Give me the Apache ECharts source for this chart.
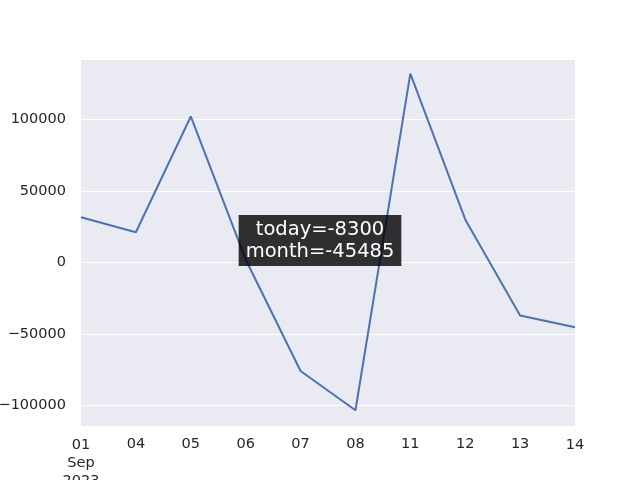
<!DOCTYPE html>
<html>
<head>
<meta charset="utf-8">
<script src="https://cdn.jsdelivr.net/npm/echarts@6/dist/echarts.min.js"></script>
<style>html,body{margin:0;padding:0;background:#fff;}#c{width:640px;height:480px;}</style>
</head>
<body>
<div id="c"></div>
<script>
const dates = ['01', '04', '05', '06', '07', '08', '11', '12', '13', '14'];
const values = [31500, 21000, 102000, 2000, -76000, -103500, 132000, 30000, -37185, -45485];
const annotationText = 'today=-8300\nmonth=-45485';

const chart = echarts.init(document.getElementById('c'), null, {renderer: 'canvas'});
const font = 'DejaVu Sans';
chart.setOption({
  animation: false,
  backgroundColor: '#ffffff',
  grid: {left: 81, right: 65, top: 59, bottom: 54, show: true, backgroundColor: '#EAEAF2', borderWidth: 0,
         containLabel: false, outerBoundsMode: 'none'},
  xAxis: {
    type: 'category',
    data: dates,
    boundaryGap: false,
    axisLine: {show: false},
    axisTick: {show: false},
    splitLine: {show: false},
    axisLabel: {
      margin: 9,
      interval: 0,
      color: '#262626',
      fontFamily: font,
      fontSize: 14.5,
      lineHeight: 18,
      formatter: function (v, i) {
        if (i === 0) return '{e|01}\n{e|Sep}\n{e|2023}';
        if (i === dates.length - 1) return '{e|' + v + '}';
        return v;
      },
      rich: {
        e: {color: '#262626', fontFamily: font, fontSize: 14.5, lineHeight: 18, padding: [3, 0, 0, 0]}
      }
    }
  },
  yAxis: {
    type: 'value',
    min: -114500,
    max: 142200,
    splitNumber: 5,
    axisLine: {show: false},
    axisTick: {show: false},
    splitLine: {show: true, lineStyle: {color: '#ffffff', width: 1}},
    axisLabel: {
      margin: 15,
      showMinLabel: false,
      showMaxLabel: false,
      color: '#262626',
      fontFamily: font,
      fontSize: 14.5,
      formatter: function (v) { return v < 0 ? '\u2212' + Math.abs(v) : String(v); }
    }
  },
  series: [{
    type: 'line',
    data: values,
    showSymbol: false,
    symbol: 'none',
    lineStyle: {color: '#4C72B0', width: 2},
    itemStyle: {color: '#4C72B0'}
  }],
  graphic: [{
    type: 'text',
    x: 320,
    y: 240.5,
    z: 100,
    style: {
      text: annotationText,
      align: 'center',
      verticalAlign: 'middle',
      fill: '#ffffff',
      font: '19.5px "DejaVu Sans"',
      lineHeight: 22,
      backgroundColor: 'rgba(0,0,0,0.8)',
      padding: [4, 7, 3, 7]
    }
  }]
});
</script>
</body>
</html>
